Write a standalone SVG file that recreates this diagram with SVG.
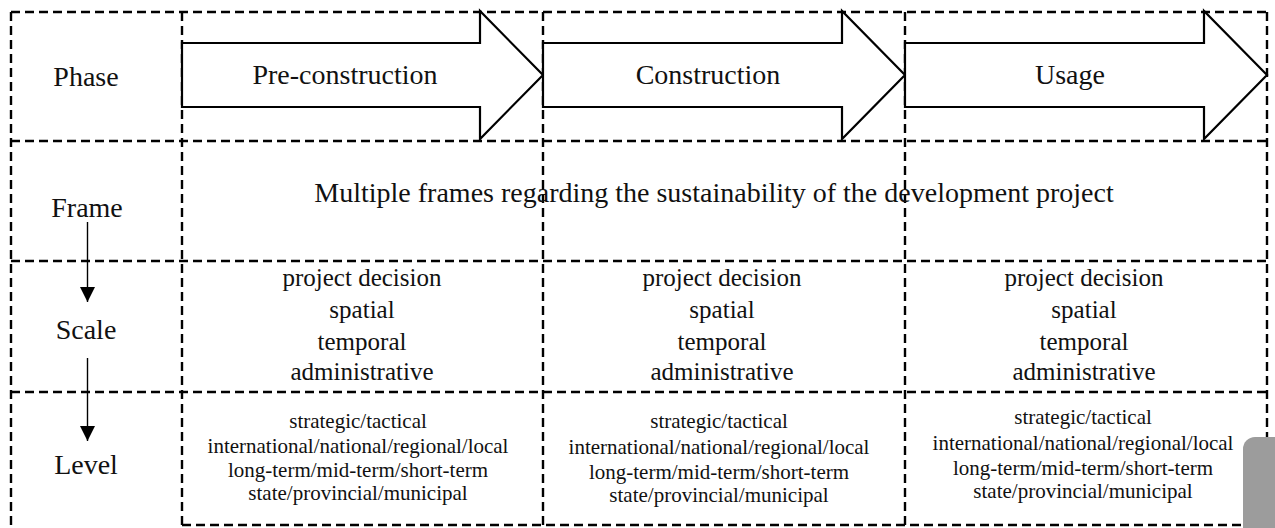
<svg xmlns="http://www.w3.org/2000/svg" width="1275" height="528" viewBox="0 0 1275 528">
  <style>
    .grid { stroke: #000; stroke-width: 2.4; stroke-dasharray: 9 5; fill: none; }
    .phase { fill: #fff; stroke: #000; stroke-width: 2.2; stroke-linejoin: miter; }
    .flow { stroke: #000; stroke-width: 1.4; fill: none; }
    text { font-family: "Liberation Serif", "Times New Roman", serif; fill: #111; text-anchor: middle; }
    .lbl { font-size: 28px; }
    .scale { font-size: 25px; }
    .level { font-size: 21px; }
  </style>
  <defs>
    <marker id="tri" markerUnits="userSpaceOnUse" viewBox="0 0 15 15" refX="15" refY="7.5" markerWidth="15" markerHeight="15" orient="auto">
      <path d="M0,0 L15,7.5 L0,15 Z" fill="#000"/>
    </marker>
  </defs>

  <rect width="1275" height="528" fill="#fff"/>

  <!-- dashed table grid -->
  <g id="grid">
    <line class="grid" x1="11" y1="12" x2="1267" y2="12"/>
    <line class="grid" x1="11" y1="141" x2="1267" y2="141"/>
    <line class="grid" x1="11" y1="261" x2="1267" y2="261"/>
    <line class="grid" x1="11" y1="392" x2="1267" y2="392"/>
    <line class="grid" x1="182" y1="525" x2="1266" y2="525"/>
    <line class="grid" x1="11" y1="12" x2="11" y2="528"/>
    <line class="grid" x1="182" y1="12" x2="182" y2="528"/>
    <line class="grid" x1="543" y1="12" x2="543" y2="525"/>
    <line class="grid" x1="905" y1="12" x2="905" y2="525"/>
    <line class="grid" x1="1267" y1="12" x2="1267" y2="525"/>
  </g>

  <!-- phase arrows -->
  <g id="phase-pre">
    <polygon class="phase" points="182,43 480,43 480,11 543,75 480,139 480,107 182,107"/>
    <text class="lbl" x="345" y="84">Pre-construction</text>
  </g>
  <g id="phase-construction">
    <polygon class="phase" points="543,43 842,43 842,11 905,75 842,139 842,107 543,107"/>
    <text class="lbl" x="708" y="84">Construction</text>
  </g>
  <g id="phase-usage">
    <polygon class="phase" points="905,43 1204,43 1204,11 1267,75 1204,139 1204,107 905,107"/>
    <text class="lbl" x="1070" y="84">Usage</text>
  </g>

  <!-- row headers -->
  <g id="hdr-phase"><text class="lbl" x="86" y="86">Phase</text></g>
  <g id="hdr-frame"><text class="lbl" x="87" y="217">Frame</text></g>
  <g id="hdr-scale"><text class="lbl" x="86" y="339">Scale</text></g>
  <g id="hdr-level"><text class="lbl" x="86" y="474">Level</text></g>

  <!-- downward links between headers -->
  <g id="connectors">
    <line class="flow" x1="87.5" y1="222" x2="87.5" y2="302" marker-end="url(#tri)"/>
    <line class="flow" x1="87.5" y1="358" x2="87.5" y2="441" marker-end="url(#tri)"/>
  </g>

  <!-- frame row -->
  <g id="frame">
    <text class="lbl" x="714" y="202">Multiple frames regarding the sustainability of the development project</text>
  </g>

  <!-- scale row -->
  <g id="scale-pre" class="scale">
    <text x="362" y="286">project decision</text>
    <text x="362" y="318">spatial</text>
    <text x="362" y="350">temporal</text>
    <text x="362" y="380">administrative</text>
  </g>
  <g id="scale-construction" class="scale">
    <text x="722" y="286">project decision</text>
    <text x="722" y="318">spatial</text>
    <text x="722" y="350">temporal</text>
    <text x="722" y="380">administrative</text>
  </g>
  <g id="scale-usage" class="scale">
    <text x="1084" y="286">project decision</text>
    <text x="1084" y="318">spatial</text>
    <text x="1084" y="350">temporal</text>
    <text x="1084" y="380">administrative</text>
  </g>

  <!-- level row -->
  <g id="level-pre" class="level">
    <text x="358" y="428">strategic/tactical</text>
    <text x="358" y="453">international/national/regional/local</text>
    <text x="358" y="477">long-term/mid-term/short-term</text>
    <text x="358" y="500">state/provincial/municipal</text>
  </g>
  <g id="level-construction" class="level">
    <text x="719" y="428">strategic/tactical</text>
    <text x="719" y="454">international/national/regional/local</text>
    <text x="719" y="479">long-term/mid-term/short-term</text>
    <text x="719" y="502">state/provincial/municipal</text>
  </g>
  <g id="level-usage" class="level">
    <text x="1083" y="424">strategic/tactical</text>
    <text x="1083" y="450">international/national/regional/local</text>
    <text x="1083" y="475">long-term/mid-term/short-term</text>
    <text x="1083" y="498">state/provincial/municipal</text>
  </g>

  <!-- grey page tab, bottom right -->
  <rect x="1243" y="437" width="60" height="120" rx="12" fill="#9c9c9c"/>
</svg>
